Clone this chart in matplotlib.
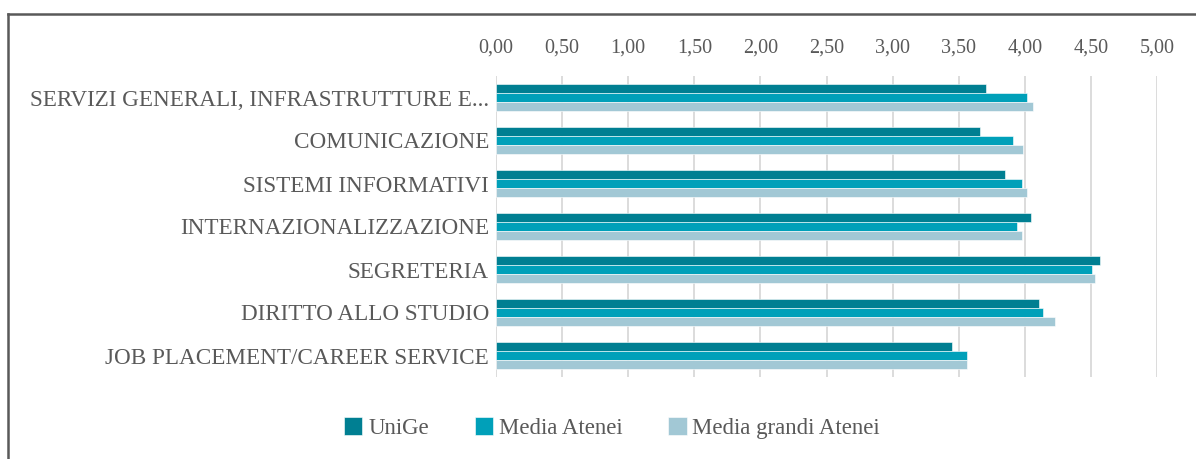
import numpy as np
import matplotlib
matplotlib.use("Agg")
import matplotlib.pyplot as plt
from matplotlib.lines import Line2D
from matplotlib.ticker import FuncFormatter

categories = [
    "SERVIZI GENERALI, INFRASTRUTTURE E...",
    "COMUNICAZIONE",
    "SISTEMI INFORMATIVI",
    "INTERNAZIONALIZZAZIONE",
    "SEGRETERIA",
    "DIRITTO ALLO STUDIO",
    "JOB PLACEMENT/CAREER SERVICE",
]
unige = [3.71, 3.66, 3.85, 4.05, 4.57, 4.11, 3.45]
media_atenei = [4.02, 3.91, 3.98, 3.94, 4.51, 4.14, 3.56]
media_grandi = [4.06, 3.99, 4.02, 3.98, 4.53, 4.23, 3.56]

series = [
    ("UniGe", unige, "#007F92"),
    ("Media Atenei", media_atenei, "#00A0B9"),
    ("Media grandi Atenei", media_grandi, "#A2C8D5"),
]

text_col = "#595959"
plt.rcParams["font.family"] = ["Liberation Serif", "DejaVu Serif"]

fig = plt.figure(figsize=(11.96, 4.59), dpi=100)
W, H = 1196, 459
ax = fig.add_axes([496 / W, 82 / H, (1157 - 496) / W, (383 - 82) / H])

y = np.arange(len(categories))
h = 0.205
for i, (name, vals, col) in enumerate(series):
    ax.barh(y + (i - 1) * h, vals, height=h, color=col, edgecolor="white",
            linewidth=0.4, label=name, zorder=3)

ax.set_xlim(0, 5)
ax.set_ylim(6.5, -0.5)
ax.set_xticks(np.arange(0, 5.01, 0.5))
ax.xaxis.set_major_formatter(FuncFormatter(lambda v, p: f"{v:.2f}".replace(".", ",")))
ax.xaxis.tick_top()
ax.tick_params(axis="x", length=0, pad=13, labelsize=14.5, labelcolor=text_col)
ax.set_yticks(y)
ax.set_yticklabels(categories)
ax.tick_params(axis="y", length=0, pad=5, labelsize=16.7, labelcolor=text_col)
ax.grid(axis="x", color="#D9D9D9", linewidth=1.3, zorder=0)
for s in ax.spines.values():
    s.set_visible(False)

fig.legend(loc="center", bbox_to_anchor=(612 / W, 1 - 428 / H), ncol=3,
           frameon=False, fontsize=16.5, labelcolor=text_col,
           handlelength=0.8, handleheight=0.8, handletextpad=0.25,
           columnspacing=2.0)

# frame lines of the chart box
fig.add_artist(Line2D([7.5 / W, 1], [1 - 14 / H, 1 - 14 / H], color=text_col, lw=1.8))
fig.add_artist(Line2D([7.5 / W, 7.5 / W], [0, 1 - 14 / H], color=text_col, lw=1.8))

fig.savefig("out.png", dpi=100)
